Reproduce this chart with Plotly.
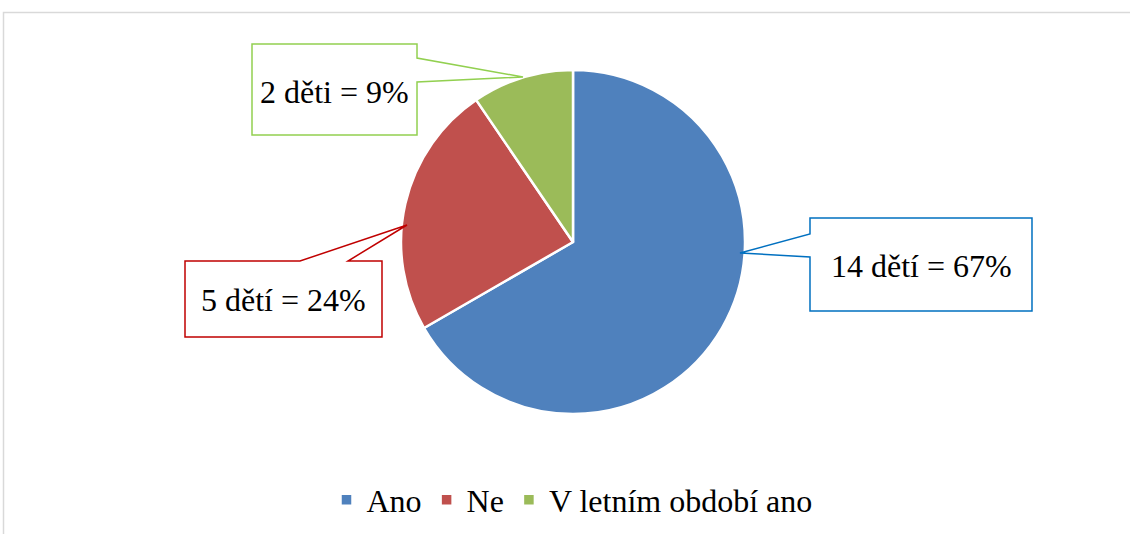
import plotly.graph_objects as go

# ---- data ----
labels = ["Ano", "Ne", "V letním období ano"]
values = [14, 5, 2]
callout_texts = ["14 dětí = 67%", "5 dětí = 24%", "2 děti = 9%"]
slice_colors = ["#4F81BD", "#C0504D", "#9BBB59"]
callout_colors = ["#0070C0", "#C00000", "#92D050"]

W, H = 1130, 534
FONT = "Liberation Serif"

def px(x):
    return x / W

def py(y):
    return 1 - y / H

def path(points):
    return "M" + " L".join(f"{px(x):.5f},{py(y):.5f}" for x, y in points) + " Z"

# pie geometry (pixels)
cx, cy, r = 573, 242, 172

fig = go.Figure()
fig.add_trace(go.Pie(
    labels=labels,
    values=values,
    sort=False,
    direction="clockwise",
    rotation=0,
    textinfo="none",
    hoverinfo="label+value+percent",
    marker=dict(colors=slice_colors, line=dict(color="white", width=2.5)),
    domain=dict(x=[px(cx - r), px(cx + r)], y=[py(cy + r), py(cy - r)]),
))

callouts = [
    dict(pts=[(810, 218), (1032, 218), (1032, 311), (810, 311), (810, 257), (740, 253), (810, 234)],
         center=(921, 266)),
    dict(pts=[(185, 261), (300, 261), (407, 225), (348, 261), (382, 261), (382, 337), (185, 337)],
         center=(283.5, 300)),
    dict(pts=[(252, 44), (417, 44), (417, 58), (523, 77), (417, 82), (417, 135), (252, 135)],
         center=(334.5, 92)),
]

shapes = [
    dict(type="rect", xref="paper", yref="paper",
         x0=px(3.5), x1=px(1150), y0=py(560), y1=py(12.5),
         line=dict(color="#D9D9D9", width=1.5), fillcolor="rgba(0,0,0,0)", layer="below"),
]
annotations = []
for c, txt, col in zip(callouts, callout_texts, callout_colors):
    shapes.append(dict(type="path", xref="paper", yref="paper", path=path(c["pts"]),
                       line=dict(color=col, width=1.5), fillcolor="white", layer="above"))
    annotations.append(dict(xref="paper", yref="paper", x=px(c["center"][0]), y=py(c["center"][1]),
                            text=txt, showarrow=False, xanchor="center", yanchor="middle",
                            font=dict(family=FONT, size=32, color="black")))

fig.update_layout(
    width=W, height=H,
    margin=dict(l=0, r=0, t=0, b=0),
    paper_bgcolor="white",
    plot_bgcolor="white",
    shapes=shapes,
    annotations=annotations,
    showlegend=True,
    legend=dict(orientation="h", x=px(572), xanchor="center", y=py(500), yanchor="middle",
                font=dict(family=FONT, size=32, color="black"),
                itemwidth=30, bgcolor="rgba(0,0,0,0)"),
)

fig.write_html("out.html", config={"displayModeBar": False},
               post_script="document.body.style.margin='0';")
